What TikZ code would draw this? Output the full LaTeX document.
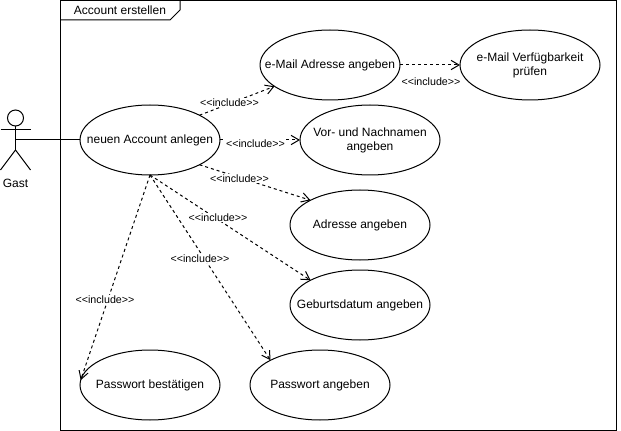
\documentclass[tikz,border=0pt]{standalone}
\usepackage{fontspec}
\setmainfont{Liberation Sans}
\usepackage{tikz}
\usetikzlibrary{arrows.meta,shapes.geometric}
\newcommand{\inclabel}{<\kern0pt<include>\kern0pt>}

\begin{document}
\begin{tikzpicture}[x=0.75pt,y=-0.75pt,line width=0.75pt,
                        every node/.style={font=\fontsize{9}{10.5}\selectfont},
                        usecase/.style={draw,ellipse,minimum width=105pt,minimum height=52.5pt,
                                        inner sep=-15pt,outer sep=0pt,align=center},
                        ar/.style={-{Straight Barb[length=6pt,width=7pt,line width=0.75pt]},dash pattern=on 2.25pt off 2.25pt},
                        incl/.style={fill=white,inner sep=0.5pt,font=\fontsize{8}{10}\selectfont}]
      \useasboundingbox (0,0) rectangle (621,431);
      % frame
      \draw (60.5,0.5) rectangle (616,430);
      \draw (60.5,20) -- (170,20) -- (180,10) -- (180,0.5);
      \node (title) at (120,10.5) {Account erstellen};
      % actor
      \node[draw,circle,minimum size=12pt,inner sep=0pt,outer sep=0pt] (head) at (15.5,118) {};
      \coordinate (hip) at (15.5,150);
      \coordinate (gastmid) at (15.5,140);
      \draw (head) -- (hip);
      \draw (0.5,130) -- (30.5,130);
      \draw (0.5,170) -- (hip) -- (30.5,170);
      \node (gast) at (15.5,183.5) {Gast};
      % use cases
      \node[usecase] (anlegen) at (150,140) {neuen Account anlegen};
      \node[usecase] (email) at (330,65) {e-Mail Adresse angeben};
      \node[usecase] (verf) at (530,65) {e-Mail Verfügbarkeit\\prüfen};
      \node[usecase] (namen) at (370,140) {Vor- und Nachnamen\\angeben};
      \node[usecase] (adresse) at (360,225) {Adresse angeben};
      \node[usecase] (geburt) at (360,305) {Geburtsdatum angeben};
      \node[usecase] (pwbest) at (150,385) {Passwort bestätigen};
      \node[usecase] (pwang) at (320,385) {Passwort angeben};
      % connectors
      \draw (gastmid) -- (anlegen);
      \draw[ar] (anlegen.north east) -- (email.201);
      \draw[ar] (anlegen) -- (namen);
      \draw[ar] (anlegen.south east) -- (adresse.north west);
      \draw[ar] (anlegen.south) -- (geburt.north west);
      \draw[ar] (anlegen.south) -- (pwang.north west);
      \draw[ar] (anlegen.south) -- (pwbest.176);
      \draw[ar] (email) -- (verf);
      % labels
      \node[incl] (l1) at (229.5,102.5) {\inclabel};
      \node[incl] (l2) at (255.5,143.5) {\inclabel};
      \node[incl] (l3) at (239.5,178.5) {\inclabel};
      \node[incl] (l4) at (218,217.5) {\inclabel};
      \node[incl] (l5) at (200,258.5) {\inclabel};
      \node[incl] (l6) at (105,299.5) {\inclabel};
      \node[incl] (l7) at (431,81.5) {\inclabel};
    \end{tikzpicture}
\end{document}
